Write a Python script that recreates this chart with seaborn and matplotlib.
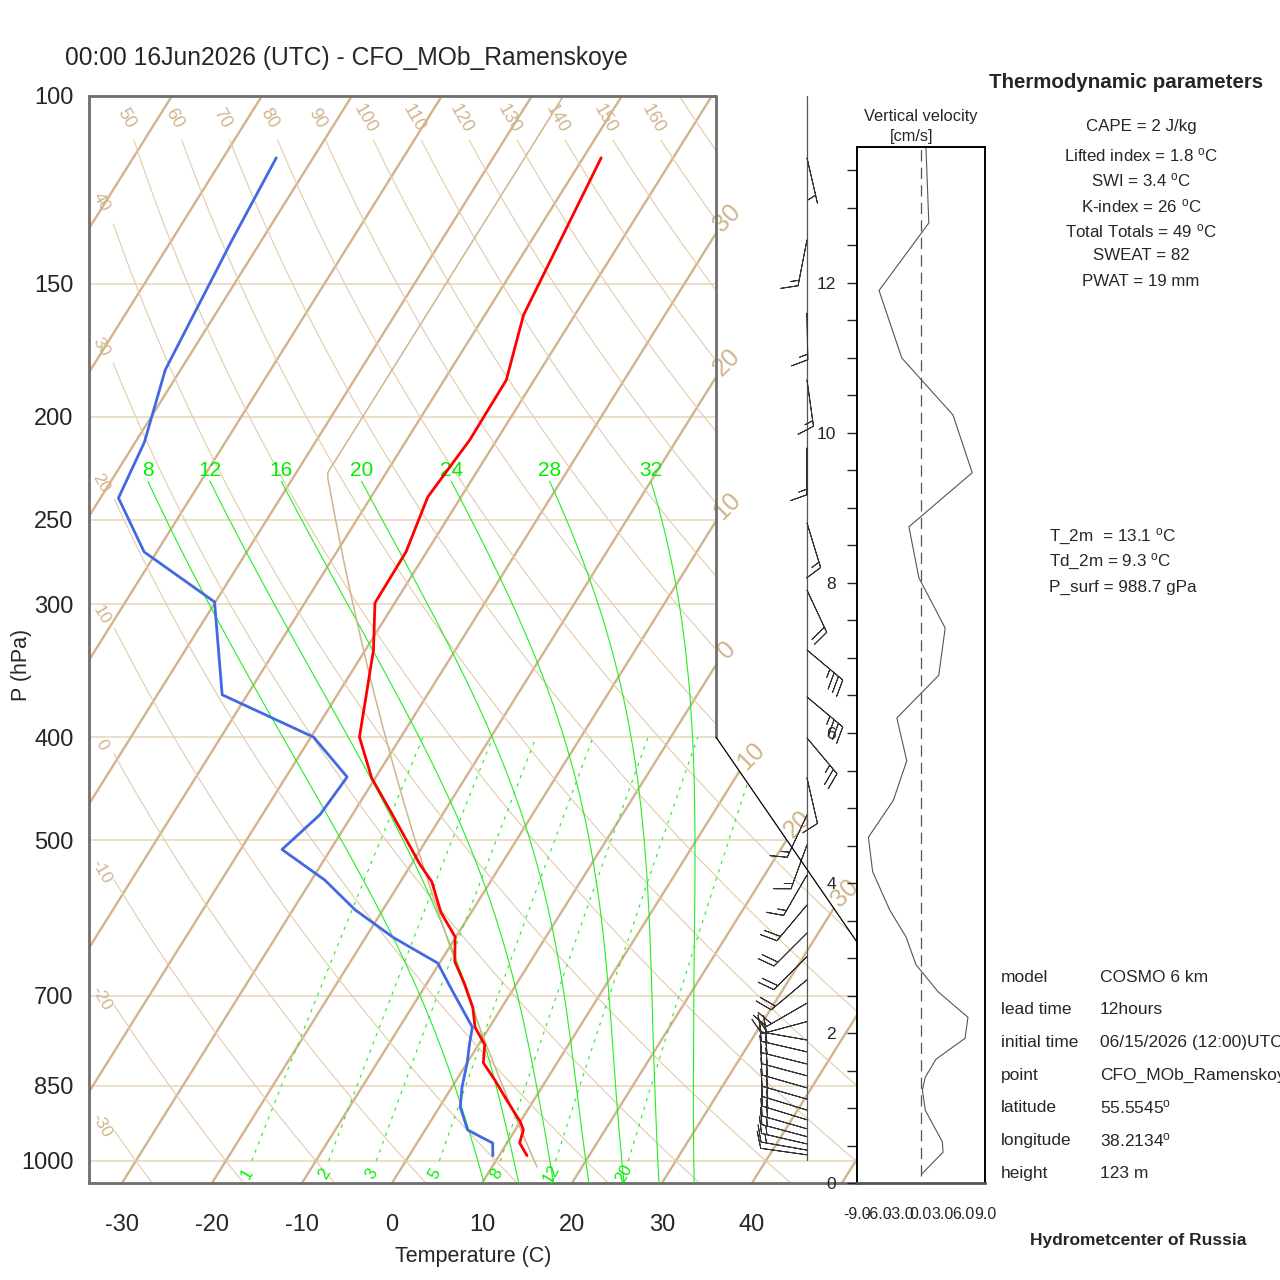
import numpy as np
import pandas as pd
import seaborn as sns
import matplotlib
matplotlib.use("Agg")
import matplotlib.pyplot as plt
from matplotlib.patches import Polygon

# ---- profile data ----
t_pres = [114.3, 160.6, 184.8, 210.4, 238.0, 268.0, 299.3, 331.3, 400.0, 437.0, 468.0, 527.0, 547.0, 584.0,
          616.0, 650.0, 683.0, 718.0, 749.0, 778.0, 809.0, 840.0, 877.0, 919.0, 935.0, 962.0, 988.7]
t_vals = [-48.0, -45.7, -43.1, -43.0, -43.7, -42.3, -42.2, -39.1, -34.6, -30.4, -26.2, -19.0, -16.5, -13.4,
          -10.1, -8.4, -5.7, -3.2, -1.6, 0.7, 1.8, 4.3, 7.0, 10.0, 10.9, 11.4, 13.1]

td_pres = [114.3, 136.5, 180.8, 211.3, 238.5, 268.0, 298.6, 365.0, 400.0, 436.0, 473.0, 510.0, 545.0, 581.0,
           617.0, 652.0, 686.0, 749.0, 775.0, 809.0, 852.0, 890.0, 935.0, 952.0, 962.0, 988.7]
td_vals = [-84.1, -83.3, -81.7, -79.0, -78.0, -71.4, -60.1, -52.8, -39.7, -33.2, -33.6, -35.4, -28.5, -23.1,
           -16.9, -10.2, -7.2, -1.9, -1.1, 0.0, 1.1, 2.3, 4.7, 7.0, 8.4, 9.3]

# wind barbs (pressure, direction from, speed)
barb_p = [114.3, 136.5, 159.9, 184.8, 214.1, 251.7, 291.0, 331.3, 366.7, 400.7,
          436.9, 473.3, 505.0, 538.9, 575.0, 611.0, 643.0, 676.0, 711.0, 740.0,
          770.0, 790.0, 811.0, 832.0, 854.0, 875.0, 896.0, 915.0, 933.0, 949.0,
          964.0, 977.0, 987.0]
barb_dir = [167, 191, 179, 172, 180, 163, 155, 130, 130, 140,
            167, 205, 200, 210, 220, 225, 225, 230, 240, 255,
            280, 283, 284, 285, 286, 286, 287, 287, 286, 285,
            283, 280, 278]
barb_spd = [5, 15, 15, 15, 15, 15, 20, 35, 35, 25,
            10, 15, 15, 15, 20, 20, 20, 20, 20, 20,
            20, 20, 20, 20, 20, 20, 20, 20, 20, 15,
            15, 15, 10]

# vertical velocity profile
vv_height = [0.12, 0.41, 0.55, 0.97, 1.24, 1.41, 1.65, 1.93, 2.21, 2.55, 2.91, 3.28, 3.64, 4.15,
             4.61, 5.1, 5.63, 6.2, 6.77, 7.4, 8.07, 8.75, 9.47, 10.24, 11.0, 11.9, 12.8, 13.8]
vv_vals = [0.1, 3.1, 3.0, 0.6, 0.2, 0.6, 2.1, 6.2, 6.6, 2.4, -0.7, -2.1, -4.4, -6.8,
           -7.4, -3.9, -2.0, -3.4, 2.5, 3.4, -0.3, -1.7, 7.2, 4.5, -2.7, -5.9, 1.1, 0.7]

# diagram furniture
p_levels = [100, 150, 200, 250, 300, 400, 500, 700, 850, 1000]
t_ticks = [-30, -20, -10, 0, 10, 20, 30, 40]
isotherms = list(range(-100, 60, 10))
dry_thetas = list(range(-30, 180, 10))
moist_tw = [8, 12, 16, 20, 24, 28, 32]
mix_ratios = [1, 2, 3, 5, 8, 12, 20]

params = ["CAPE = 2 J/kg", "Lifted index = 1.8 $^{o}$C", "SWI = 3.4 $^{o}$C", "K-index = 26 $^{o}$C",
          "Total Totals = 49 $^{o}$C", "SWEAT = 82", "PWAT = 19 mm"]
sfc_lines = ["T_2m  = 13.1 $^{o}$C", "Td_2m = 9.3 $^{o}$C", "P_surf = 988.7 gPa"]
info_keys = ["model", "lead time", "initial time", "point", "latitude", "longitude", "height"]
info_vals = ["COSMO 6 km", "12hours", "06/15/2026 (12:00)UTC", "CFO_MOb_Ramenskoye",
             "55.5545$^{o}$", "38.2134$^{o}$", "123 m"]

PB, PT = 1049.0, 100.0
SKEW = 74.0
TAN = "#D2B48C"
LIME = "#22EE22"
ROCP = 0.28571426


def skx(t, p):
    return np.asarray(t, float) + SKEW * np.log10(PB / np.asarray(p, float))


# Wobus-function saturated lift (classic skew-T routines)
def wobf(t):
    x = t - 20.0
    if x <= 0:
        pol = 1.0 + x * (-8.8416605e-3 + x * (1.4714143e-4 + x * (-9.671989e-7 + x * (-3.2607217e-8 + x * (-3.8598073e-10)))))
        return 15.13 / pol ** 4
    pol = x * (4.9618922e-07 + x * (-6.1059365e-09 + x * (3.9401551e-11 + x * (-1.2588129e-13 + x * 1.6688280e-16))))
    pol = 1.0 + x * (3.6182989e-03 + x * (-1.3603273e-05 + pol))
    return 29.93 / pol ** 4 + 0.96 * x - 14.8


def satlft(thw, p):
    if abs(p - 1000.0) < 0.001:
        return thw
    pwrp = (p / 1000.0) ** ROCP
    t1 = (thw + 273.15) * pwrp - 273.15
    e1 = wobf(t1) - wobf(thw)
    rate = 1.0
    t2, e2 = t1, e1
    for _ in range(50):
        t2 = t1 - e1 * rate
        e2 = (t2 + 273.15) / pwrp - 273.15
        e2 += wobf(t2) - wobf(e2) - thw
        eor = e2 * rate
        if abs(eor) <= 0.1:
            return t2 - eor
        rate = (t2 - t1) / (e2 - e1)
        t1, e1 = t2, e2
    return t2


sns.set_style("white")
plt.rcParams["font.family"] = ["Liberation Sans", "DejaVu Sans"]
plt.rcParams["mathtext.default"] = "regular"
plt.rcParams["axes.unicode_minus"] = False

fig = plt.figure(figsize=(12.8, 12.8), dpi=100)


def ftxt(x, y, s, **kw):
    fig.text(x / 1280, 1 - y / 1280, s, **kw)


ax = fig.add_axes([89 / 1280, 1 - 1183 / 1280, 768 / 1280, 1087 / 1280])
ax.set_yscale("log")
ax.set_xlim(-33.67, 51.67)
ax.set_ylim(PB, PT)

# clip region of the skew-T
fx, fy1, fy2 = (716 - 89) / 768, np.log(PB / 400) / np.log(PB / PT), np.log(PB / 623) / np.log(PB / PT)
clip = Polygon([(0, 0), (0, 1), (fx, 1), (fx, fy1), (1, fy2), (1, 0)], closed=True,
               transform=ax.transAxes, facecolor="none", edgecolor="none")
ax.add_patch(clip)


def clipped(lines):
    for ln in lines:
        ln.set_clip_path(clip)


# pressure lines
for p in p_levels[1:]:
    clipped(ax.plot([-40, 60], [p, p], color="#EBDCC4", lw=1.3, zorder=1))

# isotherms
pp = np.geomspace(PB, PT, 60)
for t in isotherms:
    clipped(ax.plot(skx(t, pp), pp, color=TAN, lw=1.7, zorder=2))

# dry adiabats
for th in dry_thetas:
    pd_grid = np.geomspace(PB, 100 if th == 170 else 110, 300)
    tt = (th + 273.15) * (pd_grid / 1000.0) ** 0.2857 - 273.15
    xx = skx(tt, pd_grid)
    if th <= 40:
        keep = xx >= -31.0
        clipped(ax.plot(xx[keep], pd_grid[keep], color="#E2CCAA", lw=0.8, zorder=2))
        plab = np.interp(-32.3, xx[::-1], pd_grid[::-1])
        ax.text(-32.3, plab * 1.03, str(th), color=TAN, fontsize=12.5, rotation=-60, ha="center", va="center")
    else:
        clipped(ax.plot(xx, pd_grid, color="#E2CCAA", lw=0.8, zorder=2))
        if th < 170:
            ax.text(xx[-1] - 0.9, 105, str(th), color=TAN, fontsize=13, rotation=-60, ha="center", va="center")

# moist adiabats (labelled by wet-bulb potential temperature)
p_moist_grid = np.linspace(PB, 230, 120)
for tw in moist_tw:
    ts = np.array([satlft(tw, p) for p in p_moist_grid])
    clipped(ax.plot(skx(ts, p_moist_grid), p_moist_grid, color=LIME, lw=0.8, zorder=3))
    ax.annotate(str(tw), (skx(ts[-1], 230), 230), xytext=(0, 8), textcoords="offset points",
                color="#00EE00", fontsize=15, ha="center", va="center")

# mixing ratio lines
p_mr = np.linspace(1000, 400, 60)
for w in mix_ratios:
    e = w * p_mr / (622.0 + w)
    lg = np.log(e / 6.112)
    tdw = 243.5 * lg / (17.67 - lg)
    clipped(ax.plot(skx(tdw, p_mr), p_mr, color=LIME, lw=0.8, dashes=(3, 5), zorder=3))
    ax.annotate(str(w), (skx(tdw[0], 1000), 1000), xytext=(-3, -9), textcoords="offset points",
                color="#00EE00", fontsize=12, rotation=60, ha="center", va="center")

# isotherm labels at the right border
lg400, lg623 = np.log10(400), np.log10(623)
for t in range(-30, 40, 10):
    p_end = PB * 10 ** (-(36 - t) / SKEW)
    if p_end <= 400:
        xe = 36.0
    else:
        a = (51.67 - 36) / (lg623 - lg400)
        L = (t + SKEW * np.log10(PB) - 36 + a * lg400) / (a + SKEW)
        p_end = 10 ** L
        xe = skx(t, p_end)
    ax.annotate(str(abs(t)), (xe, p_end), xytext=(8, 11), textcoords="offset points",
                color=TAN, fontsize=18, rotation=45, ha="center", va="center", annotation_clip=False)

# ICAO standard atmosphere
p_std = np.geomspace(1013.25, 100, 200)
h_std = 44330.8 * (1 - (p_std / 1013.25) ** 0.190263)
t_std = np.where(p_std >= 226.32, 15.0 - 0.0065 * h_std, -56.5)
clipped(ax.plot(skx(t_std, p_std), p_std, color=TAN, lw=1.1, zorder=4))

# temperature / dew point profiles
prof = pd.DataFrame({"x": skx(t_vals, t_pres), "p": t_pres})
dprof = pd.DataFrame({"x": skx(td_vals, td_pres), "p": td_pres})
sns.lineplot(data=prof, x="x", y="p", sort=False, estimator=None, color="#FF0000", lw=2.0, ax=ax, zorder=6)
sns.lineplot(data=dprof, x="x", y="p", sort=False, estimator=None, color="#4169E1", lw=2.0, ax=ax, zorder=6)

# wind barbs column
bx = (807 - 392) / 9.0
ax.plot([bx, bx], [100, 998], color="#555555", lw=0.9, zorder=5, clip_on=False)
rad = np.deg2rad(barb_dir)
u = -np.array(barb_spd) * np.sin(rad)
v = -np.array(barb_spd) * np.cos(rad)
ax.barbs(np.full(len(barb_p), bx), barb_p, u, v, length=8.2, lw=0.7, color="#333333",
         sizes=dict(spacing=0.12, height=0.35, width=0.25), clip_on=False, zorder=5)

# frame
for s in ["top", "right"]:
    ax.spines[s].set_visible(False)
for s in ["left", "bottom"]:
    ax.spines[s].set_color("#6E6E6E")
    ax.spines[s].set_linewidth(2)
ax.plot([0, fx], [1, 1], transform=ax.transAxes, color="#6E6E6E", lw=2, clip_on=False, zorder=7)
ax.plot([fx, fx], [1, fy1], transform=ax.transAxes, color="#6E6E6E", lw=2, clip_on=False, zorder=7)
ax.plot([fx, 1], [fy1, fy2], transform=ax.transAxes, color="black", lw=0.9, clip_on=False, zorder=7)

ax.set_yticks(p_levels)
ax.set_yticklabels([str(p) for p in p_levels])
ax.yaxis.set_minor_locator(matplotlib.ticker.NullLocator())
ax.tick_params(axis="y", length=0, pad=11, labelsize=17)
ax.set_xticks(t_ticks)
ax.set_xticklabels([str(t) for t in t_ticks])
ax.tick_params(axis="x", direction="out", length=9, width=1.5, color="#444444", pad=13, labelsize=17)
ax.set_xlabel("Temperature (C)", fontsize=15.5)
ax.xaxis.set_label_coords(0.5, -0.058)
ax.set_ylabel("P (hPa)", fontsize=15.5)
ax.yaxis.set_label_coords(-0.074, 0.4766)

# ---- vertical velocity panel ----
ax2 = fig.add_axes([857 / 1280, 1 - 1183 / 1280, 128 / 1280, 1036 / 1280])
ax2.set_xlim(-9, 9)
ax2.set_ylim(0, 1036 / 75)
ax2.plot([0, 0], [0.1, 13.81], color="#555555", lw=0.9, dashes=(9, 5))
sns.lineplot(x=vv_vals, y=vv_height, sort=False, estimator=None, color="#555555", lw=0.8, ax=ax2)
ax2.set_xticks([-9, -6, -3, 0, 3, 6, 9])
ax2.set_xticklabels(["%.1f" % v for v in [-9, -6, -3, 0, 3, 6, 9]])
ax2.set_yticks(range(0, 13, 2))
ax2.set_yticks(np.arange(0, 13.8, 0.5), minor=True)
ax2.tick_params(axis="x", direction="out", length=9, width=1.2, pad=8, labelsize=11.5)
ax2.tick_params(axis="y", which="both", direction="out", length=7, width=1.0, pad=8, labelsize=12.5, left=True)
ax2.set_xlabel("")
ax2.set_ylabel("")
for s in ax2.spines.values():
    s.set_color("black")
    s.set_linewidth(1.4)
ax2.spines["bottom"].set_color("#555555")
ax2.spines["bottom"].set_linewidth(2)

ftxt(921, 117, "Vertical velocity", ha="center", va="center", fontsize=11.8)
ftxt(912, 136, "[cm/s]", ha="center", va="center", fontsize=11.8)

# ---- texts ----
ftxt(65, 58, "00:00 16Jun2026 (UTC) - CFO_MOb_Ramenskoye", ha="left", va="center", fontsize=17.7)
ftxt(1126, 82, "Thermodynamic parameters", ha="center", va="center", fontsize=14.8, fontweight="bold")
param_y = [127, 155, 180, 206, 231, 256, 282]
for yy, s in zip(param_y, params):
    ftxt(1141, yy, s, ha="center", va="center", fontsize=12.2)
for i, s in enumerate(sfc_lines):
    ftxt(1049, 537 + i * 25, s, ha="left", va="center", fontsize=12.3)
for i, (k, s) in enumerate(zip(info_keys, info_vals)):
    ftxt(1001, 977 + i * 32.7, k, ha="left", va="center", fontsize=12.5)
    ftxt(1100, 977 + i * 32.7, s, ha="left", va="center", fontsize=12.5)
ftxt(1138, 1240, "Hydrometcenter of Russia", ha="center", va="center", fontsize=12.5, fontweight="bold")

fig.savefig("out.png", dpi=100)
